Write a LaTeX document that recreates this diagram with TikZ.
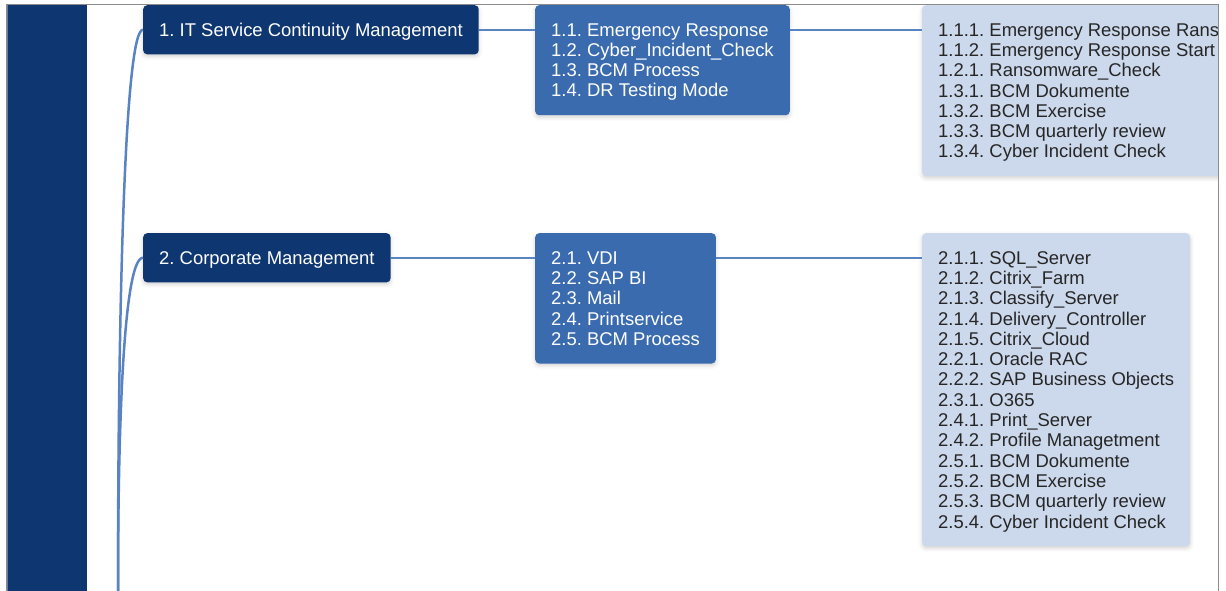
\documentclass[tikz,border=0pt]{standalone}
\usepackage{fontspec}
\setmainfont{Liberation Sans}
\usetikzlibrary{shadows.blur}
\definecolor{mapnavy}{HTML}{0E3670}
\definecolor{mapblue}{HTML}{3A6BAF}
\definecolor{mappale}{HTML}{CCD8EB}
\definecolor{mapline}{HTML}{5A83C4}
\definecolor{mapframe}{HTML}{8C8C8C}
\definecolor{mapink}{HTML}{262626}
% struts that keep the caps centred in each box
\newcommand{\mapuprule}{\rule{0pt}{16.5pt}}
\newcommand{\maplowrule}{\rule[-3.8pt]{0pt}{3.8pt}}

\begin{document}
\frenchspacing
\begin{tikzpicture}[
  x=1pt,
  y=-1pt,
  every node/.style={font=\fontsize{18.45}{20.3}\selectfont},
  frameline/.style={mapframe, line width=1.5pt},
  rootbar/.style={fill=mapnavy},
  mapbox/.style={anchor=north west, rounded corners=4pt, align=left,
    inner xsep=16pt, inner ysep=14.4pt,
    execute at end node=\maplowrule,
    blur shadow={shadow xshift=0pt, shadow yshift=-2pt,
      shadow blur radius=4pt, shadow opacity=18}},
  topic/.style={mapbox, fill=mapnavy, text=white},
  service/.style={mapbox, fill=mapblue, text=white},
  system/.style={mapbox, fill=mappale, text=mapink},
  link/.style={mapline, line width=2.5pt}
]
  \useasboundingbox (0,0) rectangle (1226,591);

  \begin{scope}
    \clip (7.25,5.25) rectangle (1217.75,591);

    % ---- root bar on the left ---------------------------------------------
    \fill[rootbar] (7,5) rectangle (87,591);

    % ---- branch 1 ---------------------------------------------------------
    \node[topic] (itscm) at (143,5)
      {\mapuprule 1. IT Service Continuity Management};
    \node[service] (svc1) at (535,5)
      {\mapuprule 1.1. Emergency Response\\
       1.2. Cyber\_Incident\_Check\\
       1.3. BCM Process\\
       1.4. DR Testing Mode};
    \node[system] (sys1) at (922,5)
      {\mapuprule 1.1.1. Emergency Response Rans\\
       1.1.2. Emergency Response Start\\
       1.2.1. Ransomware\_Check\\
       1.3.1. BCM Dokumente\\
       1.3.2. BCM Exercise\\
       1.3.3. BCM quarterly review\\
       1.3.4. Cyber Incident Check};

    % ---- branch 2 ---------------------------------------------------------
    \node[topic] (corp) at (143,233)
      {\mapuprule 2. Corporate Management};
    \node[service] (svc2) at (535,233)
      {\mapuprule 2.1. VDI\\
       2.2. SAP BI\\
       2.3. Mail\\
       2.4. Printservice\\
       2.5. BCM Process};
    \node[system] (sys2) at (922,233)
      {\mapuprule 2.1.1. SQL\_Server\\
       2.1.2. Citrix\_Farm\\
       2.1.3. Classify\_Server\\
       2.1.4. Delivery\_Controller\\
       2.1.5. Citrix\_Cloud\\
       2.2.1. Oracle RAC\\
       2.2.2. SAP Business Objects\\
       2.3.1. O365\\
       2.4.1. Print\_Server\\
       2.4.2. Profile Managetment\\
       2.5.1. BCM Dokumente\\
       2.5.2. BCM Exercise\\
       2.5.3. BCM quarterly review\\
       2.5.4. Cyber Incident Check};

    % ---- connectors -------------------------------------------------------
    \coordinate (trunk) at (118,591);
    \draw[link] (trunk) .. controls (118,300) and (125,29) .. (itscm.west);
    \draw[link] (trunk) .. controls (118,418) and (124,258) .. (corp.west);
    \draw[link] (itscm.east) -- (svc1.west |- itscm.east);
    \draw[link] (svc1.east |- itscm.east) -- (sys1.west |- itscm.east);
    \draw[link] (corp.east) -- (svc2.west |- corp.east);
    \draw[link] (svc2.east |- corp.east) -- (sys2.west |- corp.east);
  \end{scope}

  % ---- window frame -------------------------------------------------------
  \draw[frameline] (6.5,591) -- (6.5,4.5) -- (1218.5,4.5) -- (1218.5,591);
\end{tikzpicture}
\end{document}
